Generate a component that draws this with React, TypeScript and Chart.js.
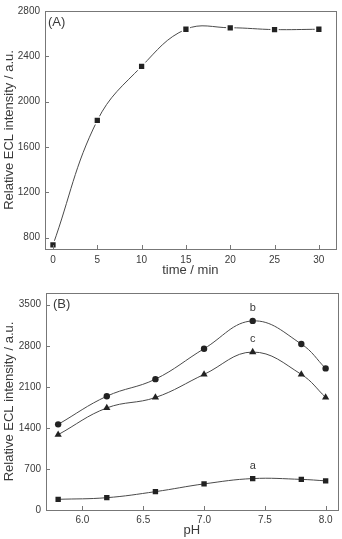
import React, { useEffect, useRef } from "react";
import { Chart, registerables } from "chart.js";

Chart.register(...registerables);

// Panel A: ECL intensity vs incubation time
const timeMin = [0, 5, 10, 15, 20, 25, 30];
const intensityTime = [736, 1834, 2311, 2639, 2652, 2636, 2639];
const timeTicks = [0, 5, 10, 15, 20, 25, 30];
const intensityTicksA = [800, 1200, 1600, 2000, 2400, 2800];

// Panel B: ECL intensity vs pH for three systems
const pHValues = [5.8, 6.2, 6.6, 7.0, 7.4, 7.8, 8.0];
const seriesA = [182, 210, 313, 445, 536, 522, 497];
const seriesB = [1460, 1940, 2231, 2750, 3224, 2830, 2414];
const seriesC = [1284, 1740, 1918, 2312, 2693, 2312, 1920];
const pHTicks = [6.0, 6.5, 7.0, 7.5, 8.0];
const intensityTicksB = [0, 700, 1400, 2100, 2800, 3500];
const seriesNames = ["a", "b", "c"];
const labelAtPH = 7.4;

const FONT = "'Liberation Sans', Arial, Helvetica, sans-serif";
const TEXT = "#3a3a3a";
const FRAME = "#777";
const LINE = "#4a4a4a";
const MARK = "#222";

const framePlugin = {
  id: "frame",
  afterDatasetsDraw(chart: any, _args: any, opts: any) {
    const { ctx, chartArea } = chart;
    const { left, top, right, bottom } = chartArea;
    ctx.save();
    ctx.strokeStyle = FRAME;
    ctx.lineWidth = 1;
    ctx.strokeRect(Math.round(left) + 0.5, Math.round(top) + 0.5, Math.round(right - left), Math.round(bottom - top));
    const xs = chart.scales.x;
    const ys = chart.scales.y;
    ctx.beginPath();
    xs.ticks.forEach((t: any) => {
      const px = Math.round(xs.getPixelForValue(t.value)) + 0.5;
      ctx.moveTo(px, bottom);
      ctx.lineTo(px, bottom - 4);
    });
    ys.ticks.forEach((t: any) => {
      const py = Math.round(ys.getPixelForValue(t.value)) + 0.5;
      ctx.moveTo(left, py);
      ctx.lineTo(left + 4, py);
    });
    ctx.stroke();

    // panel tag
    ctx.fillStyle = TEXT;
    ctx.font = `13px ${FONT}`;
    ctx.textBaseline = "middle";
    ctx.textAlign = "left";
    ctx.fillText(opts.tag, left + opts.tagDx, top + opts.tagDy);

    // series letters above the points at the chosen x
    if (opts.names) {
      ctx.font = `11px ${FONT}`;
      ctx.textAlign = "center";
      chart.data.datasets.forEach((ds: any, i: number) => {
        const idx = ds.data.findIndex((p: any) => p.x === opts.at);
        const el = chart.getDatasetMeta(i).data[idx];
        if (el) ctx.fillText(opts.names[i], el.x, el.y - 13);
      });
    }
    ctx.restore();
  },
};

function fixedScale(size: number, horizontal: boolean) {
  return (s: any) => {
    if (horizontal) s.height = size;
    else s.width = size;
  };
}

function baseOptions(cfg: any) {
  return {
    responsive: false,
    animation: false,
    events: [],
    layout: { padding: cfg.padding },
    plugins: {
      legend: { display: false },
      tooltip: { enabled: false },
      frame: cfg.frame,
    },
    elements: { line: { tension: 0.4, borderWidth: 1, borderColor: LINE } },
    scales: {
      x: {
        type: "linear",
        min: cfg.xMin,
        max: cfg.xMax,
        afterBuildTicks: (s: any) => {
          s.ticks = cfg.xTicks.map((v: number) => ({ value: v }));
        },
        afterFit: fixedScale(cfg.xAxisHeight, true),
        grid: { display: false, drawTicks: false },
        border: { display: false },
        ticks: {
          padding: cfg.xTickPad,
          color: TEXT,
          font: { family: FONT, size: 10 },
          maxRotation: 0,
          autoSkip: false,
          callback: cfg.xFormat,
        },
        title: {
          display: true,
          text: cfg.xTitle,
          color: TEXT,
          font: { family: FONT, size: 13 },
          padding: { top: 0, bottom: cfg.xTitlePad },
        },
      },
      y: {
        type: "linear",
        min: cfg.yMin,
        max: cfg.yMax,
        afterBuildTicks: (s: any) => {
          s.ticks = cfg.yTicks.map((v: number) => ({ value: v }));
        },
        afterFit: fixedScale(cfg.yAxisWidth, false),
        grid: { display: false, drawTicks: false },
        border: { display: false },
        ticks: {
          padding: 5,
          color: TEXT,
          font: { family: FONT, size: 10 },
          autoSkip: false,
          callback: (v: any) => String(v),
        },
        title: {
          display: true,
          text: "Relative ECL intensity / a.u.",
          color: TEXT,
          font: { family: FONT, size: 13 },
          padding: { top: 2, bottom: 0 },
        },
      },
    },
  };
}

function TimeChart() {
  const ref = useRef<HTMLCanvasElement | null>(null);
  useEffect(() => {
    if (!ref.current) return;
    const chart = new Chart(ref.current, {
      type: "line",
      data: {
        datasets: [
          {
            data: timeMin.map((t, i) => ({ x: t, y: intensityTime[i] })),
            pointStyle: "rect",
            pointRadius: 4.8,
            pointBackgroundColor: MARK,
            pointBorderColor: "#fff",
            pointBorderWidth: 1.5,
          },
        ],
      },
      options: baseOptions({
        padding: { top: 10, right: 4, left: 0, bottom: 0 },
        xMin: -0.9,
        xMax: 31.9,
        xTicks: timeTicks,
        xAxisHeight: 31,
        xTickPad: 5,
        xFormat: (v: any) => String(v),
        xTitle: "time / min",
        xTitlePad: 2,
        yMin: 700,
        yMax: 2800,
        yTicks: intensityTicksA,
        yAxisWidth: 45,
        frame: { tag: "(A)", tagDx: 3, tagDy: 11 },
      }) as any,
      plugins: [framePlugin],
    });
    return () => chart.destroy();
  }, []);
  return (
    <canvas
      ref={ref}
      width={342}
      height={280}
      style={{ position: "absolute", left: 0, top: 0, width: 342, height: 280 }}
    />
  );
}

function PHChart() {
  const ref = useRef<HTMLCanvasElement | null>(null);
  useEffect(() => {
    if (!ref.current) return;
    const toPoints = (vals: number[]) => pHValues.map((x, i) => ({ x, y: vals[i] }));
    const chart = new Chart(ref.current, {
      type: "line",
      data: {
        datasets: [
          {
            data: toPoints(seriesA),
            pointStyle: "rect",
            pointRadius: 3.8,
            pointBackgroundColor: MARK,
            pointBorderColor: MARK,
            pointBorderWidth: 0,
          },
          {
            data: toPoints(seriesB),
            pointStyle: "circle",
            pointRadius: 3.2,
            pointBackgroundColor: MARK,
            pointBorderColor: MARK,
            pointBorderWidth: 0,
          },
          {
            data: toPoints(seriesC),
            pointStyle: "triangle",
            pointRadius: 4.2,
            pointBackgroundColor: MARK,
            pointBorderColor: MARK,
            pointBorderWidth: 0,
          },
        ],
      },
      options: baseOptions({
        padding: { top: 13, right: 2, left: 0, bottom: 0 },
        xMin: 5.7,
        xMax: 8.1,
        xTicks: pHTicks,
        xAxisHeight: 29,
        xTickPad: 4,
        xFormat: (v: any) => Number(v).toFixed(1),
        xTitle: "pH",
        xTitlePad: 1,
        yMin: 0,
        yMax: 3700,
        yTicks: intensityTicksB,
        yAxisWidth: 46,
        frame: { tag: "(B)", tagDx: 7, tagDy: 11, names: seriesNames, at: labelAtPH },
      }) as any,
      plugins: [framePlugin],
    });
    return () => chart.destroy();
  }, []);
  return (
    <canvas
      ref={ref}
      width={342}
      height={259}
      style={{ position: "absolute", left: 0, top: 280, width: 342, height: 259 }}
    />
  );
}

export default function App() {
  return (
    <div style={{ position: "absolute", left: 0, top: 0, width: 342, height: 539, background: "#fff" }}>
      <TimeChart />
      <PHChart />
    </div>
  );
}
